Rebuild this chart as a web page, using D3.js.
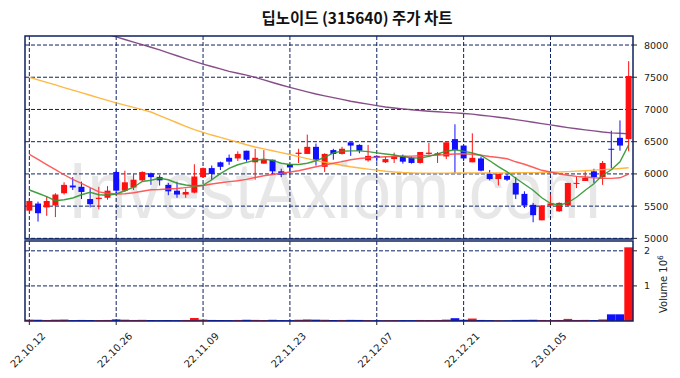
<!DOCTYPE html>
<html><head><meta charset="utf-8">
<script src="https://cdn.jsdelivr.net/npm/d3@7"></script>
<style>body{margin:0;background:#fff}</style>
</head><body><svg id="c" width="680" height="378"></svg>
<script>
const title = "딥노이드 (315640) 주가 차트";
const dates = ["22.10.12","22.10.13","22.10.14","22.10.17","22.10.18","22.10.19","22.10.20","22.10.21","22.10.24","22.10.25","22.10.26","22.10.27","22.10.28","22.10.31",
"22.11.01","22.11.02","22.11.03","22.11.04","22.11.07","22.11.08","22.11.09","22.11.10","22.11.11","22.11.14","22.11.15","22.11.16","22.11.17","22.11.18","22.11.21","22.11.22","22.11.23","22.11.24","22.11.25","22.11.28","22.11.29","22.11.30",
"22.12.01","22.12.02","22.12.05","22.12.06","22.12.07","22.12.08","22.12.09","22.12.12","22.12.13","22.12.14","22.12.15","22.12.16","22.12.19","22.12.20","22.12.21","22.12.22","22.12.23","22.12.26","22.12.27","22.12.28","22.12.29",
"23.01.02","23.01.03","23.01.04","23.01.05","23.01.06","23.01.09","23.01.10","23.01.11","23.01.12","23.01.13","23.01.16","23.01.17","23.01.18"];
const open  = [5430,5540,5480,5510,5700,5820,5800,5610,5610,5630,6030,5740,5790,5900,6010,5950,5830,5740,5680,5710,5950,6090,6180,6250,6240,6360,6180,6160,6220,6040,6150,6310,6310,6420,6110,6370,6310,6490,6450,6210,6280,6180,6230,6280,6250,6170,6310,6290,6270,6540,6440,6180,6240,6000,5920,5970,5860,5690,5520,5280,5510,5420,5510,5850,5890,6040,5950,6390,6560,6540];
const high  = [5600,5570,5650,5700,5870,5950,5880,5780,5800,5810,6050,6050,6000,6040,6020,5980,5860,5880,5770,6150,6100,6130,6190,6300,6350,6360,6390,6370,6220,6080,6150,6390,6610,6470,6320,6390,6420,6490,6460,6450,6290,6270,6330,6300,6270,6340,6480,6340,6490,6770,6450,6630,6270,6060,6000,6000,5950,5730,5550,5510,5680,5560,5860,5960,6040,6080,6200,6670,6830,7750];
const low   = [5420,5260,5350,5330,5680,5750,5610,5480,5450,5600,5680,5720,5750,5880,5830,5820,5670,5630,5630,5700,5940,5910,6060,6140,6200,6190,5910,6160,5990,5950,6000,6170,6310,6130,6030,6220,6300,6280,6320,6190,6190,6170,6170,6160,6160,6160,6300,6170,6230,6010,6200,6180,6040,5900,5820,5890,5610,5470,5250,5280,5500,5410,5500,5780,5890,5860,5830,6090,6360,6350];
const close = [5580,5390,5580,5680,5830,5790,5720,5530,5630,5740,5740,5870,5910,6030,5950,5900,5730,5680,5720,5960,6090,6000,6110,6190,6310,6220,6250,6220,6040,5990,6100,6330,6420,6220,6310,6310,6390,6440,6360,6280,6250,6230,6280,6190,6170,6340,6330,6320,6490,6370,6240,6250,6050,5920,6000,5910,5680,5510,5360,5510,5540,5550,5860,5860,5940,5950,6170,6380,6440,7520];
const volume = [40000,35000,30000,38000,42000,25000,30000,28000,26000,30000,45000,38000,30000,33000,28000,25000,27000,24000,30000,85000,40000,30000,28000,26000,30000,35000,32000,28000,34000,26000,24000,36000,45000,38000,35000,28000,30000,32000,30000,26000,22000,24000,26000,25000,24000,30000,28000,30000,40000,80000,35000,70000,30000,25000,22000,20000,30000,32000,35000,30000,26000,30000,60000,30000,32000,28000,45000,190000,190000,2100000];
const ma5   = [5750,5700,5646,5584,5599,5626,5677,5716,5677,5669,5688,5739,5793,5883,5902,5933,5909,5855,5827,5812,5824,5909,6005,6087,6142,6180,6211,6227,6211,6165,6145,6145,6165,6204,6258,6327,6351,6358,6358,6346,6327,6309,6293,6269,6250,6245,6273,6312,6351,6374,6351,6327,6289,6204,6114,6033,5933,5840,5747,5630,5545,5514,5553,5638,5747,5847,5979,6064,6188,6451];
const ma20  = [6304,6224,6145,6066,5987,5917,5852,5787,5722,5700,5689,5692,5708,5731,5754,5757,5765,5773,5788,5804,5821,5843,5863,5881,5894,5915,5945,5971,5991,6010,6029,6049,6080,6111,6139,6165,6191,6219,6239,6250,6259,6266,6269,6273,6276,6281,6286,6292,6301,6309,6312,6304,6289,6270,6255,6235,6188,6150,6103,6056,6030,6002,5979,5962,5951,5940,5932,5930,5940,5998];
const ma60  = [7500,7460,7421,7381,7340,7300,7261,7221,7181,7141,7102,7068,7032,6998,6961,6905,6849,6794,6738,6688,6645,6603,6568,6529,6491,6452,6417,6388,6359,6331,6301,6269,6238,6207,6180,6157,6134,6111,6092,6075,6058,6041,6030,6021,6015,6012,6012,6012,6012,6013,6013,6014,6014,6015,6015,6016,6017,6018,6020,6022,6025,6030,6036,6043,6050,6058,6066,6075,6085,6095];
const ma120 = [8527,8487,8447,8406,8366,8326,8287,8247,8206,8166,8126,8086,8045,8005,7965,7924,7879,7834,7790,7745,7703,7666,7629,7590,7562,7533,7499,7458,7419,7379,7342,7308,7274,7240,7210,7183,7156,7128,7105,7082,7060,7039,7023,7009,6995,6983,6973,6964,6955,6947,6938,6927,6911,6896,6880,6863,6843,6823,6801,6781,6761,6739,6719,6701,6684,6667,6650,6637,6630,6622];
const priceTicks = [5000,5500,6000,6500,7000,7500,8000];
const volTicks = [1,2];
const dateTicks = ["22.10.12","22.10.26","22.11.09","22.11.23","22.12.07","22.12.21","23.01.05"];

const svg = d3.select("#c");
const L = 25, R = 633, PT = 36, PB = 239, VT = 241, VB = 321;
const navy = "#0e2260";
const upC = "#ff1010", dnC = "#1010ff";
const x = d3.scaleBand().domain(d3.range(dates.length)).range([L, R]).padding(0);
const cx = i => x(i) + x.bandwidth() / 2;
const y = d3.scaleLinear().domain([4990, 8140]).range([PB, PT]);
const yv = d3.scaleLinear().domain([0, 2.28]).range([VB, VT]);

// title
svg.append("text").attr("x", 357).attr("y", 17).attr("text-anchor", "middle")
  .attr("dominant-baseline", "central").attr("font-family", "'Noto Sans CJK KR', sans-serif")
  .attr("font-size", 15.5).attr("font-weight", "bold").attr("fill", "#111").text(title);

// clip paths
svg.append("clipPath").attr("id", "pc").append("rect").attr("x", L).attr("y", PT).attr("width", R - L).attr("height", PB - PT);
svg.append("clipPath").attr("id", "vc").append("rect").attr("x", L).attr("y", VT).attr("width", R - L).attr("height", VB - VT);

// watermark
svg.append("text").attr("transform", "translate(68,218) scale(1,1.15)")
  .attr("font-family", "Liberation Sans, Arial, sans-serif")
  .attr("font-size", 70).attr("fill", "#d8d8d8").attr("opacity", 0.6)
  .text("InvestAxiom.com");

// grids
const dash = "4,2";
const tickIdx = dateTicks.map(d => dates.indexOf(d));
const gP = svg.append("g");
gP.selectAll("line.h").data(priceTicks).join("line")
  .attr("x1", L).attr("x2", R).attr("y1", d => y(d)).attr("y2", d => y(d))
  .attr("stroke", navy).attr("stroke-width", 1).attr("stroke-dasharray", dash);
gP.selectAll("line.v").data(tickIdx).join("line")
  .attr("x1", d => cx(d)).attr("x2", d => cx(d)).attr("y1", PT).attr("y2", PB)
  .attr("stroke", navy).attr("stroke-width", 1).attr("stroke-dasharray", dash);
const gV = svg.append("g");
gV.selectAll("line.h").data(volTicks).join("line")
  .attr("x1", L).attr("x2", R).attr("y1", d => yv(d)).attr("y2", d => yv(d))
  .attr("stroke", navy).attr("stroke-width", 1).attr("stroke-dasharray", dash);
gV.selectAll("line.v").data(tickIdx).join("line")
  .attr("x1", d => cx(d)).attr("x2", d => cx(d)).attr("y1", VT).attr("y2", VB)
  .attr("stroke", navy).attr("stroke-width", 1).attr("stroke-dasharray", dash);

// candles
const idx = d3.range(dates.length);
const col = i => close[i] >= open[i] ? upC : dnC;
const gc = svg.append("g").attr("clip-path", "url(#pc)");
gc.selectAll("line.w").data(idx).join("line")
  .attr("x1", cx).attr("x2", cx).attr("y1", i => y(high[i])).attr("y2", i => y(low[i]))
  .attr("stroke", col).attr("stroke-width", 1);
const bw = 6;
gc.selectAll("rect.b").data(idx).join("rect")
  .attr("x", i => cx(i) - bw / 2).attr("width", bw)
  .attr("y", i => y(Math.max(open[i], close[i])))
  .attr("height", i => Math.max(1, Math.abs(y(open[i]) - y(close[i]))))
  .attr("fill", col);

// MA lines
const line = d3.line().x((d, i) => cx(i)).y(d => y(d)).curve(d3.curveLinear);
[[ma120, "#7a3a7a"], [ma60, "#ffb030"], [ma20, "#ff4a4a"], [ma5, "#2e962e"]].forEach(([arr, c]) => {
  gc.append("path").datum(arr).attr("d", line).attr("fill", "none")
    .attr("stroke", c).attr("stroke-width", 1.4).attr("opacity", 0.9);
});

// volume bars
const gvb = svg.append("g").attr("clip-path", "url(#vc)");
gvb.selectAll("rect").data(idx).join("rect")
  .attr("x", i => x(i)).attr("width", x.bandwidth())
  .attr("y", i => yv(volume[i] / 1e6)).attr("height", i => VB - yv(volume[i] / 1e6))
  .attr("fill", col);

// frames
[[PT, PB], [VT, VB]].forEach(([t, b]) => {
  svg.append("rect").attr("x", L).attr("y", t).attr("width", R - L).attr("height", b - t)
    .attr("fill", "none").attr("stroke", navy).attr("stroke-width", 1.5);
});

// right axes
const fnt = "DejaVu Sans, sans-serif";
const ap = svg.append("g");
ap.selectAll("line").data(priceTicks).join("line")
  .attr("x1", R).attr("x2", R + 4).attr("y1", d => y(d)).attr("y2", d => y(d)).attr("stroke", "#222");
ap.selectAll("text").data(priceTicks).join("text")
  .attr("x", R + 11).attr("y", d => y(d)).attr("dominant-baseline", "central")
  .attr("font-family", fnt).attr("font-size", 9.5).attr("fill", "#222").text(d => d);
const av = svg.append("g");
av.selectAll("line").data(volTicks).join("line")
  .attr("x1", R).attr("x2", R + 4).attr("y1", d => yv(d)).attr("y2", d => yv(d)).attr("stroke", "#222");
av.selectAll("text").data(volTicks).join("text")
  .attr("x", R + 11).attr("y", d => yv(d)).attr("dominant-baseline", "central")
  .attr("font-family", fnt).attr("font-size", 9.5).attr("fill", "#222").text(d => d);
const vl = svg.append("text").attr("transform", "translate(667,313) rotate(-90)")
  .attr("font-family", fnt).attr("font-size", 10).attr("fill", "#222");
vl.append("tspan").text("Volume  10");
vl.append("tspan").attr("dy", -4).attr("font-size", 7.5).text("6");

// x axis
const ax = svg.append("g");
ax.selectAll("line").data(tickIdx).join("line")
  .attr("x1", d => cx(d)).attr("x2", d => cx(d)).attr("y1", VB).attr("y2", VB + 4).attr("stroke", "#222");
ax.selectAll("text").data(tickIdx).join("text")
  .attr("transform", d => `translate(${cx(d) - 1.5},350) rotate(-45)`)
  .attr("text-anchor", "middle").attr("dominant-baseline", "central")
  .attr("font-family", fnt).attr("font-size", 10).attr("fill", "#222").text(d => dates[d]);
</script></body></html>
